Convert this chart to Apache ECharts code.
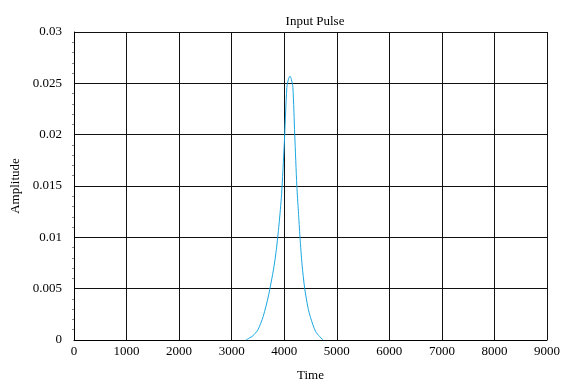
<!DOCTYPE html>
<html>
<head>
<meta charset="utf-8">
<script src="https://cdn.jsdelivr.net/npm/echarts@6/dist/echarts.min.js"></script>
<style>
  html, body { margin: 0; padding: 0; background: #fff; }
  #main { width: 565px; height: 387px; }
</style>
</head>
<body>
<div id="main"></div>
<script>
// values
var time = [3270, 3400, 3500, 3600, 3700, 3800, 3850, 3900, 3950, 4000, 4050, 4080, 4108,
            4135, 4165, 4200, 4240, 4270, 4300, 4340, 4390, 4450, 4500, 4600, 4740];
var amplitude = [0, 0.0004, 0.0010, 0.0023, 0.0043, 0.0070, 0.0088, 0.0112, 0.0142, 0.0190, 0.0246, 0.0254, 0.0257,
                 0.0254, 0.0246, 0.0200, 0.0150, 0.0125, 0.0100, 0.0073, 0.0050, 0.0032, 0.0022, 0.0008, 0];
var xTicks = [0, 1000, 2000, 3000, 4000, 5000, 6000, 7000, 8000, 9000];
var yTicks = [0, 0.005, 0.01, 0.015, 0.02, 0.025, 0.03];

var pulse = time.map(function (t, i) { return [t, amplitude[i]]; });

var chart = echarts.init(document.getElementById('main'));
var font = 'Liberation Serif';

chart.setOption({
  animation: false,
  title: {
    text: 'Input Pulse',
    left: 310,
    top: 10,
    textAlign: 'center',
    textStyle: { fontFamily: font, fontSize: 13, fontWeight: 'normal', color: '#000' }
  },
  grid: { left: 74, right: 18, top: 32, bottom: 44 },
  xAxis: {
    type: 'value',
    min: xTicks[0],
    max: xTicks[xTicks.length - 1],
    interval: 1000,
    name: 'Time',
    nameLocation: 'middle',
    nameGap: 29,
    nameTextStyle: { fontFamily: font, fontSize: 13, color: '#000' },
    axisLine: { lineStyle: { color: '#000' } },
    axisTick: { show: false },
    axisLabel: {
      fontFamily: font, fontSize: 13, color: '#000', margin: 5,
      formatter: function (v) { return String(v); }
    },
    splitLine: { lineStyle: { color: '#111', width: 1 } }
  },
  yAxis: {
    type: 'value',
    min: yTicks[0],
    max: yTicks[yTicks.length - 1],
    interval: 0.005,
    name: 'Amplitude',
    nameLocation: 'middle',
    nameGap: 52,
    nameTextStyle: { fontFamily: font, fontSize: 13, color: '#000' },
    axisLine: { lineStyle: { color: '#000' } },
    axisTick: { show: false },
    minorTick: { show: true, splitNumber: 5, length: 2, lineStyle: { color: '#888' } },
    axisLabel: { fontFamily: font, fontSize: 13, color: '#000', margin: 12 },
    splitLine: { lineStyle: { color: '#111', width: 1 } }
  },
  series: [{
    type: 'line',
    data: pulse,
    smooth: 0.25,
    showSymbol: false,
    lineStyle: { color: '#1aa7e0', width: 1 }
  }]
});
</script>
</body>
</html>
